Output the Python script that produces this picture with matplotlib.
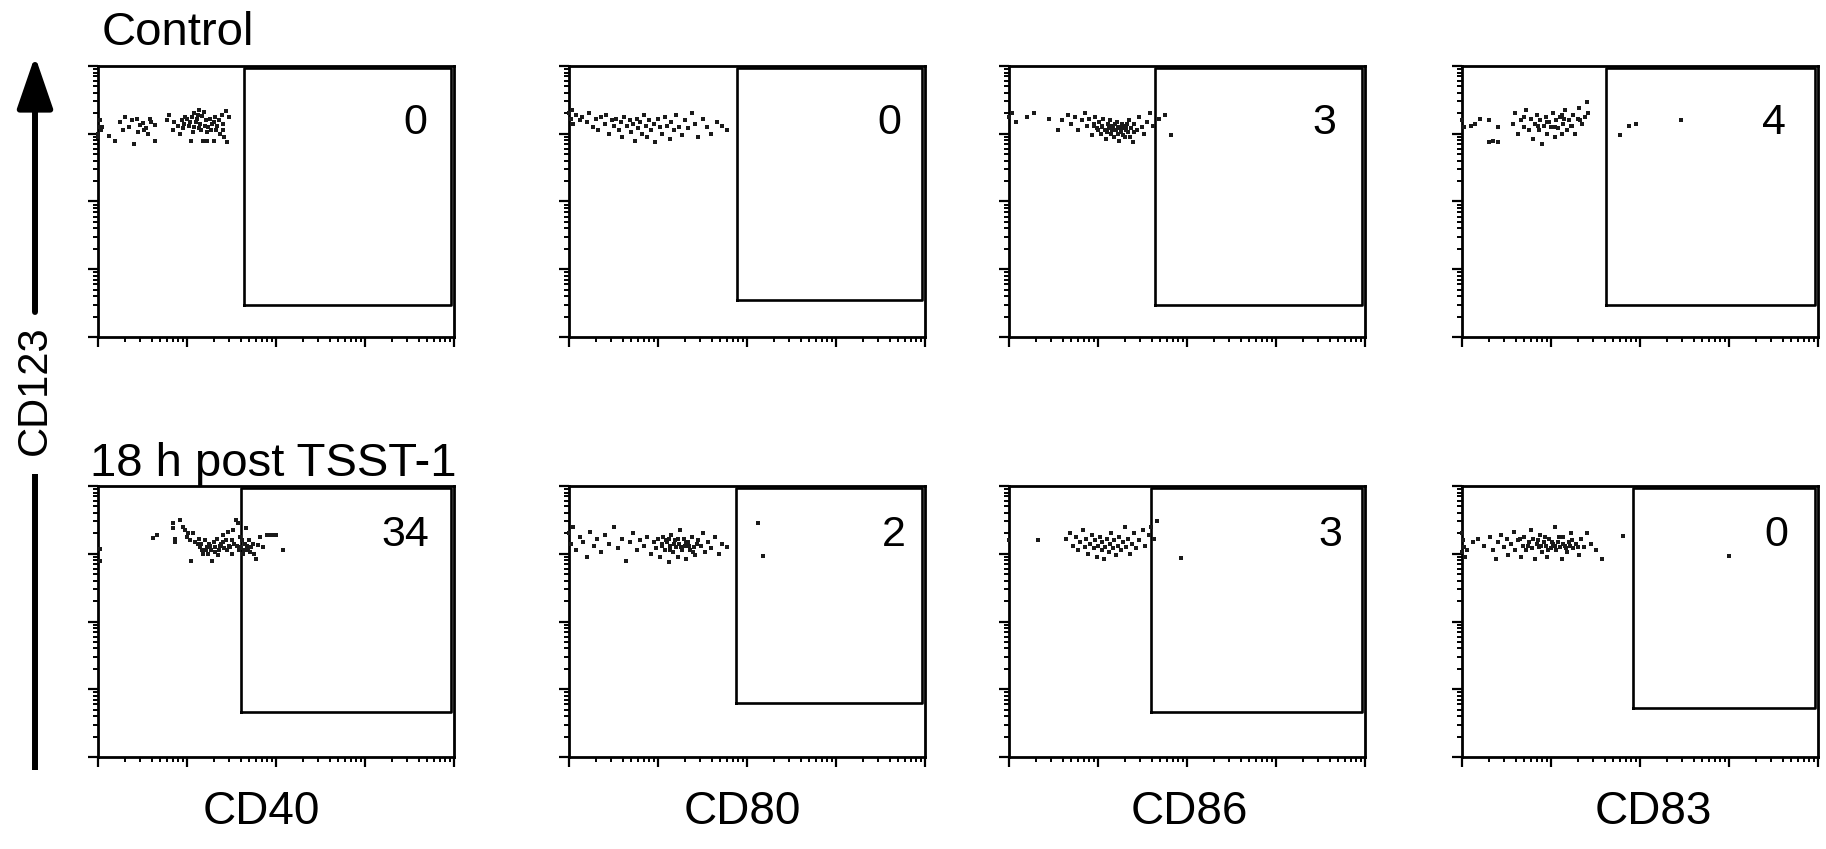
import matplotlib
matplotlib.use("Agg")
import matplotlib.pyplot as plt
from matplotlib.patches import FancyArrowPatch
from matplotlib.ticker import LogLocator, NullFormatter
import numpy as np

plt.rcParams['font.family'] = ['Liberation Sans', 'DejaVu Sans']

# marker names and row titles
markers = ['CD40', 'CD80', 'CD86', 'CD83']
row_titles = ['Control', '18 h post TSST-1']

# % of cells in the gate, per row
pct_control = ['0', '0', '3', '4']
pct_tsst = ['34', '2', '3', '0']

# gate lower-left corner (log10 units), per row
gate_x0_control = [1.64, 1.89, 1.64, 1.62]
gate_y0_control = [0.47, 0.55, 0.47, 0.47]
gate_x0_tsst = [1.61, 1.88, 1.60, 1.92]
gate_y0_tsst = [0.66, 0.80, 0.66, 0.72]
gate_top = 3.97

# events as (log10 marker, log10 CD123)
ctrl_cd40 = [(0.00, 3.00), (0.01, 3.10), (0.02, 3.20), (0.00, 2.95), (0.03, 3.05), (0.05, 3.10),
             (0.12, 2.97), (0.19, 2.90), (0.25, 3.18), (0.30, 3.25), (0.35, 3.10), (0.38, 3.20),
             (0.41, 2.85), (0.44, 3.22), (0.47, 3.13), (0.50, 3.16), (0.52, 3.05), (0.54, 3.08),
             (0.56, 3.00), (0.60, 3.18), (0.64, 2.90), (0.64, 3.13), (0.77, 3.20), (0.80, 3.28),
             (0.84, 3.05), (0.85, 3.18), (0.90, 3.12), (0.92, 3.00), (0.94, 3.20), (0.95, 3.08),
             (0.97, 3.15), (1.00, 3.22), (1.02, 3.12), (1.05, 2.90), (1.06, 3.25), (1.08, 3.10),
             (1.08, 3.30), (1.10, 3.18), (1.12, 3.28), (1.13, 3.35), (1.15, 3.15), (1.16, 3.05),
             (1.18, 2.90), (1.19, 3.32), (1.21, 3.20), (1.23, 2.90), (1.24, 3.10), (1.27, 3.05),
             (1.30, 3.18), (1.30, 2.90), (1.32, 3.25), (1.34, 3.12), (1.37, 3.00), (1.40, 3.05),
             (1.42, 2.95), (1.44, 3.33), (1.45, 2.88), (1.47, 3.24), (0.98, 3.25), (1.03, 3.18),
             (1.07, 3.02), (1.11, 3.22), (1.14, 3.08), (1.17, 3.26), (1.20, 3.12), (1.22, 3.02),
             (1.26, 3.22), (1.28, 3.14), (1.33, 3.05), (1.36, 3.20), (1.39, 3.28), (1.41, 3.15),
             (0.45, 3.02), (0.58, 3.22), (0.28, 3.05)]
ctrl_cd80 = [(0.00, 3.30), (0.02, 3.22), (0.03, 3.35), (0.05, 3.15), (0.08, 3.28), (0.12, 3.20),
             (0.15, 3.25), (0.20, 3.18), (0.22, 3.30), (0.27, 3.10), (0.30, 3.22), (0.33, 3.05),
             (0.36, 3.25), (0.40, 3.15), (0.42, 3.28), (0.45, 3.00), (0.48, 3.20), (0.50, 3.12),
             (0.53, 3.22), (0.56, 3.05), (0.58, 3.18), (0.60, 2.95), (0.62, 3.25), (0.65, 3.12),
             (0.68, 3.20), (0.70, 3.02), (0.72, 3.15), (0.74, 2.90), (0.76, 3.22), (0.78, 3.08),
             (0.80, 3.18), (0.82, 3.00), (0.84, 3.28), (0.86, 3.12), (0.88, 2.95), (0.90, 3.20),
             (0.92, 3.05), (0.95, 3.15), (0.97, 2.88), (1.00, 3.22), (1.02, 3.10), (1.05, 3.00),
             (1.08, 3.25), (1.10, 3.12), (1.13, 2.92), (1.15, 3.18), (1.18, 3.05), (1.20, 3.28),
             (1.24, 3.10), (1.27, 2.98), (1.30, 3.20), (1.34, 3.08), (1.38, 3.30), (1.42, 3.15),
             (1.45, 2.95), (1.50, 3.22), (1.55, 3.10), (1.60, 3.00), (1.66, 3.18), (1.72, 3.12),
             (1.77, 3.05)]
ctrl_cd86 = [(0.00, 3.25), (0.03, 3.30), (0.08, 3.18), (0.20, 3.25), (0.28, 3.30), (0.45, 3.22),
             (0.55, 3.05), (0.60, 3.20), (0.66, 3.28), (0.70, 3.15), (0.74, 3.25), (0.78, 3.05),
             (0.82, 3.20), (0.85, 3.30), (0.88, 3.12), (0.90, 3.22), (0.93, 2.98), (0.95, 3.15),
             (0.97, 3.25), (0.99, 3.08), (1.01, 3.18), (1.03, 3.00), (1.04, 3.12), (1.06, 3.22),
             (1.08, 3.05), (1.09, 2.92), (1.11, 3.15), (1.12, 3.08), (1.14, 3.20), (1.15, 3.00),
             (1.17, 3.12), (1.18, 2.95), (1.20, 3.05), (1.21, 3.18), (1.23, 3.10), (1.24, 2.90),
             (1.26, 3.02), (1.27, 3.15), (1.29, 3.08), (1.30, 2.95), (1.32, 3.12), (1.34, 3.02),
             (1.35, 3.20), (1.37, 3.08), (1.39, 2.88), (1.41, 3.15), (1.44, 3.05), (1.46, 3.25),
             (1.49, 3.10), (1.52, 3.00), (1.55, 3.18), (1.58, 3.30), (1.62, 3.12), (1.68, 3.22),
             (1.75, 3.28), (1.82, 2.98), (1.05, 3.10), (1.10, 3.02), (1.13, 3.12), (1.16, 3.05),
             (1.19, 3.15), (1.22, 3.00), (1.25, 3.08), (1.28, 2.98), (1.31, 3.05), (1.33, 3.15),
             (1.36, 2.95), (1.40, 3.02), (1.00, 3.05), (0.96, 3.12)]
ctrl_cd83 = [(0.00, 3.20), (0.02, 3.10), (0.10, 3.12), (0.15, 3.15), (0.20, 3.22), (0.30, 3.20),
             (0.40, 3.10), (0.30, 2.88), (0.35, 2.90), (0.40, 2.88), (0.57, 3.15), (0.60, 3.30),
             (0.63, 3.00), (0.66, 3.20), (0.70, 3.10), (0.72, 3.35), (0.75, 3.05), (0.77, 3.22),
             (0.80, 2.92), (0.82, 3.15), (0.84, 3.28), (0.86, 3.05), (0.88, 3.20), (0.90, 2.85),
             (0.92, 3.12), (0.94, 3.25), (0.96, 3.00), (0.98, 3.18), (1.00, 3.10), (1.02, 3.30),
             (1.04, 2.95), (1.06, 3.20), (1.08, 3.08), (1.10, 3.25), (1.12, 3.00), (1.14, 3.15),
             (1.16, 3.35), (1.18, 3.05), (1.20, 3.20), (1.22, 3.12), (1.25, 3.28), (1.27, 3.00),
             (1.30, 3.22), (1.32, 3.38), (1.35, 3.15), (1.38, 3.25), (1.40, 3.47), (1.42, 3.30),
             (0.85, 3.12), (0.95, 3.18), (1.05, 3.10), (1.15, 3.22), (1.24, 3.12), (1.33, 3.20),
             (1.12, 3.28), (0.70, 3.25),
             (1.78, 2.98), (1.88, 3.12), (1.95, 3.14), (2.46, 3.21)]

tsst_cd40 = [(0.02, 3.07), (0.02, 2.90), (0.62, 3.23), (0.66, 3.27), (0.84, 3.45), (0.84, 3.38),
             (0.86, 3.22), (0.87, 3.17), (0.92, 3.50), (0.96, 3.40), (0.98, 3.35), (1.00, 3.25),
             (1.01, 3.30), (1.03, 3.20), (1.05, 2.90), (1.07, 3.31), (1.09, 3.18), (1.12, 3.14),
             (1.13, 3.22), (1.15, 3.10), (1.17, 3.05), (1.18, 3.00), (1.20, 3.20), (1.22, 3.10),
             (1.24, 3.00), (1.25, 3.14), (1.27, 3.05), (1.28, 2.90), (1.30, 3.18), (1.32, 3.10),
             (1.34, 3.22), (1.35, 2.98), (1.36, 3.05), (1.38, 3.15), (1.40, 3.27), (1.42, 3.08),
             (1.44, 3.20), (1.45, 3.05), (1.46, 3.32), (1.47, 3.12), (1.50, 3.00), (1.52, 3.35),
             (1.53, 3.15), (1.55, 3.50), (1.57, 3.45), (1.58, 3.05), (1.59, 3.25), (1.60, 3.10),
             (1.61, 3.08), (1.62, 3.20), (1.63, 3.00), (1.65, 3.15), (1.66, 3.38), (1.68, 3.05),
             (1.70, 3.20), (1.72, 3.10), (1.75, 3.00), (1.77, 2.92), (1.80, 3.13), (1.82, 3.25),
             (1.85, 3.10), (1.90, 3.28), (1.93, 3.28), (1.95, 3.28), (2.00, 3.28), (2.08, 3.05),
             (1.26, 3.12), (1.31, 3.02), (1.37, 3.12), (1.41, 3.18), (1.48, 3.10), (1.51, 3.20),
             (1.56, 3.12), (1.64, 3.05), (1.67, 3.12), (1.71, 3.02), (1.74, 3.15), (1.21, 3.05),
             (1.16, 3.15)]
tsst_cd80 = [(0.00, 3.30), (0.02, 3.15), (0.05, 3.40), (0.08, 3.05), (0.12, 3.25), (0.16, 3.18),
             (0.20, 2.95), (0.24, 3.32), (0.28, 3.12), (0.32, 3.22), (0.36, 3.02), (0.40, 3.28),
             (0.45, 3.15), (0.50, 3.40), (0.55, 3.08), (0.60, 3.22), (0.64, 2.90), (0.68, 3.18),
             (0.72, 3.30), (0.76, 3.05), (0.80, 3.20), (0.84, 3.12), (0.88, 3.25), (0.92, 3.00),
             (0.95, 3.18), (0.98, 3.08), (1.00, 3.22), (1.02, 2.95), (1.04, 3.15), (1.06, 3.25),
             (1.08, 3.05), (1.10, 3.18), (1.12, 2.88), (1.13, 3.12), (1.15, 3.28), (1.17, 3.02),
             (1.19, 3.20), (1.20, 3.10), (1.22, 2.95), (1.24, 3.15), (1.25, 3.35), (1.27, 3.05),
             (1.29, 3.22), (1.30, 3.12), (1.32, 2.92), (1.34, 3.18), (1.36, 3.05), (1.38, 3.25),
             (1.40, 3.10), (1.42, 2.98), (1.45, 3.20), (1.48, 3.12), (1.50, 3.30), (1.53, 3.02),
             (1.56, 3.18), (1.60, 3.08), (1.64, 3.25), (1.68, 3.00), (1.72, 3.15), (1.77, 3.10),
             (1.05, 3.12), (1.09, 3.20), (1.14, 3.05), (1.18, 3.15), (1.23, 3.22), (1.26, 3.10),
             (1.31, 3.18), (1.35, 3.12), (1.39, 3.02), (1.44, 3.15), (1.12, 3.22),
             (2.12, 3.45), (2.18, 2.97)]
tsst_cd86 = [(0.00, 3.20), (0.33, 3.20), (0.64, 3.22), (0.68, 3.30), (0.72, 3.12), (0.75, 3.25),
             (0.78, 3.05), (0.80, 3.18), (0.83, 3.35), (0.85, 3.10), (0.87, 3.22), (0.89, 3.00),
             (0.91, 3.15), (0.93, 3.28), (0.95, 3.08), (0.97, 3.20), (0.99, 2.95), (1.00, 3.12),
             (1.02, 3.25), (1.04, 3.05), (1.05, 3.18), (1.07, 2.92), (1.08, 3.10), (1.10, 3.22),
             (1.12, 3.02), (1.13, 3.15), (1.15, 3.30), (1.17, 3.08), (1.18, 3.20), (1.20, 2.98),
             (1.22, 3.12), (1.24, 3.25), (1.26, 3.05), (1.28, 3.18), (1.30, 3.40), (1.32, 3.10),
             (1.34, 3.22), (1.36, 3.00), (1.38, 3.15), (1.40, 3.30), (1.43, 3.08), (1.46, 3.20),
             (1.50, 3.35), (1.53, 3.12), (1.57, 3.28), (1.60, 3.40), (1.63, 3.22), (1.66, 3.48),
             (1.93, 2.94)]
tsst_cd83 = [(0.00, 3.30), (0.01, 3.20), (0.02, 3.10), (0.00, 3.02), (0.03, 2.95), (0.06, 3.05),
             (0.12, 3.18), (0.18, 3.22), (0.25, 3.12), (0.32, 3.25), (0.35, 3.05), (0.38, 2.92),
             (0.40, 3.18), (0.44, 3.28), (0.47, 3.10), (0.50, 3.22), (0.52, 2.98), (0.55, 3.15),
             (0.58, 3.32), (0.60, 3.05), (0.63, 3.20), (0.66, 2.95), (0.68, 3.12), (0.70, 3.25),
             (0.72, 3.05), (0.75, 3.18), (0.77, 3.35), (0.79, 3.08), (0.80, 3.22), (0.82, 2.92),
             (0.84, 3.15), (0.86, 3.10), (0.88, 3.28), (0.90, 3.02), (0.92, 3.18), (0.94, 3.12),
             (0.96, 2.95), (0.98, 3.22), (1.00, 3.08), (1.02, 3.15), (1.04, 3.40), (1.06, 3.05),
             (1.08, 3.18), (1.10, 3.10), (1.12, 2.92), (1.14, 3.25), (1.16, 3.12), (1.18, 3.02),
             (1.20, 3.18), (1.22, 3.30), (1.25, 3.08), (1.28, 3.15), (1.31, 2.98), (1.34, 3.22),
             (1.37, 3.10), (1.40, 3.30), (1.45, 3.15), (1.50, 3.05), (1.57, 2.92),
             (0.85, 3.20), (0.89, 3.12), (0.93, 3.25), (0.97, 3.05), (1.01, 3.18), (1.05, 3.12),
             (1.09, 3.25), (1.13, 3.15), (1.17, 3.08), (1.21, 3.12), (1.24, 3.20), (1.30, 3.10),
             (0.74, 3.12), (0.65, 3.22),
             (1.81, 3.26), (3.00, 2.96)]

rows = [
    ([ctrl_cd40, ctrl_cd80, ctrl_cd86, ctrl_cd83], pct_control, gate_x0_control, gate_y0_control),
    ([tsst_cd40, tsst_cd80, tsst_cd86, tsst_cd83], pct_tsst, gate_x0_tsst, gate_y0_tsst),
]

W, H = 1826, 849
fig = plt.figure(figsize=(W / 100, H / 100), dpi=100)

col_left = [98, 569, 1009, 1462]   # px
ax_w = 356
row_top = [66, 486]
ax_h = 271
num_xfrac = [[0.924, 0.933, 0.92, 0.91], [0.93, 0.947, 0.935, 0.916]]
num_yfrac = [0.79, 0.82]
label_xfrac = [0.458, 0.487, 0.506, 0.536]

for r, (events, pcts, gx0, gy0) in enumerate(rows):
    for c in range(4):
        ax = fig.add_axes([col_left[c] / W, 1 - (row_top[r] + ax_h) / H, ax_w / W, ax_h / H])
        ax.set_xscale('log')
        ax.set_yscale('log')
        ax.set_xlim(1, 1e4)
        ax.set_ylim(1, 1e4)
        pts = np.array(events[c])
        ax.scatter(10 ** pts[:, 0], 10 ** pts[:, 1], s=6, marker='s', c='#1a1a1a',
                   linewidths=0, clip_on=False, zorder=3)
        x0, y0 = 10 ** gx0[c], 10 ** gy0[c]
        x1 = y1 = 10 ** gate_top
        ax.plot([x0, x1, x1, x0, x0], [y0, y0, y1, y1, y0], color='black', lw=1.9)
        ax.text(num_xfrac[r][c], num_yfrac[r], pcts[c], transform=ax.transAxes,
                ha='right', va='center', fontsize=31)
        for s in ax.spines.values():
            s.set_linewidth(2.0)
        for axis in (ax.xaxis, ax.yaxis):
            axis.set_major_locator(LogLocator(base=10, numticks=10))
            axis.set_minor_locator(LogLocator(base=10, subs=np.arange(2, 10), numticks=10))
            axis.set_major_formatter(NullFormatter())
            axis.set_minor_formatter(NullFormatter())
        ax.tick_params(which='major', direction='out', length=7, width=1.6)
        ax.tick_params(which='minor', direction='out', length=3.5, width=1.4)
        if r == 1:
            fig.text((col_left[c] + label_xfrac[c] * ax_w) / W, 1 - 812 / H, markers[c],
                     ha='center', va='center', fontsize=33)

fig.text(102 / W, 1 - 45 / H, row_titles[0], fontsize=34, va='baseline', ha='left')
fig.text(90 / W, 1 - 476 / H, row_titles[1], fontsize=34, va='baseline', ha='left')

# CD123 axis arrow
ax_x = 35 / W
fig.add_artist(FancyArrowPatch((ax_x, 1 - 312 / H), (ax_x, 1 - 56 / H),
                               transform=fig.transFigure, arrowstyle='-|>,head_length=32,head_width=11',
                               mutation_scale=1, lw=4.3, color='black', shrinkA=0, shrinkB=0))
fig.add_artist(plt.Line2D([ax_x, ax_x], [1 - 474 / H, 1 - 770 / H], transform=fig.transFigure,
                          lw=4.3, color='black', solid_capstyle='butt'))
fig.text(ax_x, 1 - 390 / H, 'CD123', rotation=90, ha='center', va='center', fontsize=30)

fig.savefig('out.png', dpi=100)
